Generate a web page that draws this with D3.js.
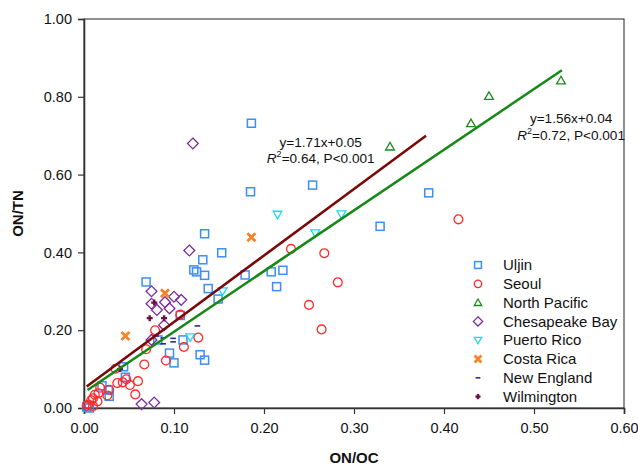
<!DOCTYPE html>
<html>
<head>
<meta charset="utf-8">
<script src="https://cdn.jsdelivr.net/npm/d3@7"></script>
<style>
  body { margin: 0; background: #fff; }
  text { font-family: "Liberation Sans", Arial, sans-serif; }
</style>
</head>
<body>
<div id="chart"></div>
<script>
// ON/OC vs ON/TN
const uljin = [[0.186, 0.732], [0.185, 0.556], [0.254, 0.573], [0.383, 0.553], [0.329, 0.467],
  [0.134, 0.448], [0.153, 0.399], [0.132, 0.381], [0.122, 0.355], [0.125, 0.350], [0.134, 0.341],
  [0.138, 0.307], [0.149, 0.280], [0.179, 0.342], [0.208, 0.350], [0.221, 0.354], [0.214, 0.312],
  [0.069, 0.324], [0.107, 0.238], [0.110, 0.175], [0.082, 0.175], [0.095, 0.141], [0.100, 0.116],
  [0.129, 0.137], [0.134, 0.123], [0.044, 0.106], [0.046, 0.079], [0.027, 0.046], [0.028, 0.030],
  [0.020, 0.057], [0.003, 0.003], [0.006, 0.000]];
const seoul = [[0.416, 0.485], [0.230, 0.409], [0.267, 0.398], [0.282, 0.323], [0.250, 0.265],
  [0.264, 0.202], [0.127, 0.181], [0.111, 0.157], [0.079, 0.200], [0.107, 0.240], [0.069, 0.151],
  [0.067, 0.112], [0.091, 0.122], [0.060, 0.069], [0.057, 0.035], [0.051, 0.059], [0.047, 0.074],
  [0.043, 0.066], [0.037, 0.064], [0.035, 0.101], [0.028, 0.047], [0.026, 0.032], [0.018, 0.052],
  [0.016, 0.038], [0.012, 0.034], [0.010, 0.025], [0.015, 0.017], [0.008, 0.020], [0.005, 0.009],
  [0.003, 0.006], [0.010, 0.005]];
const northPacific = [[0.340, 0.672], [0.430, 0.732], [0.450, 0.802], [0.530, 0.842]];
const chesapeake = [[0.121, 0.680], [0.117, 0.405], [0.075, 0.300], [0.100, 0.286], [0.108, 0.278],
  [0.075, 0.268], [0.081, 0.252], [0.090, 0.272], [0.095, 0.256], [0.089, 0.213], [0.075, 0.175],
  [0.064, 0.010], [0.078, 0.014]];
const puertoRico = [[0.215, 0.497], [0.286, 0.498], [0.257, 0.449], [0.154, 0.300], [0.118, 0.182]];
const costaRica = [[0.186, 0.439], [0.090, 0.295], [0.046, 0.185]];
const newEngland = [[0.126, 0.211], [0.099, 0.179], [0.099, 0.170], [0.088, 0.180], [0.088, 0.165], [0.080, 0.185]];
const wilmington = [[0.073, 0.231], [0.078, 0.271], [0.089, 0.231], [0.040, 0.100]];

const seriesNames = ["Uljin", "Seoul", "North Pacific", "Chesapeake Bay", "Puerto Rico", "Costa Rica", "New England", "Wilmington"];
const seriesData = [uljin, seoul, northPacific, chesapeake, puertoRico, costaRica, newEngland, wilmington];

// fitted lines as given on the chart
const fitSlopes = [1.71, 1.56];
const fitIntercepts = [0.05, 0.04];
const fitRanges = [[0.003, 0.38], [0.004, 0.531]];
const fitLabels = [["y=1.71x+0.05", "0.64, P<0.001"], ["y=1.56x+0.04", "0.72, P<0.001"]];

const xTicks = [0, 0.1, 0.2, 0.3, 0.4, 0.5, 0.6];
const yTicks = [0, 0.2, 0.4, 0.6, 0.8, 1.0];

const styles = [
  { shape: "square", color: "#3a8ef6" },
  { shape: "circle", color: "#ff2a2a" },
  { shape: "triangle", color: "#1f8a1f" },
  { shape: "diamond", color: "#7b2d9e" },
  { shape: "triangleDown", color: "#19dcef" },
  { shape: "times", color: "#f5832a" },
  { shape: "dash", color: "#2b2b8c" },
  { shape: "plus", color: "#6e1040" }
];
const lineColors = ["#7a0a0a", "#168816"];

const W = 638, H = 466;
const margin = { top: 19, right: 14, bottom: 58, left: 84 };
const width = W - margin.left - margin.right;
const height = H - margin.top - margin.bottom;

const svg = d3.select("#chart").append("svg").attr("width", W).attr("height", H);
const g = svg.append("g").attr("transform", `translate(${margin.left},${margin.top})`);

const x = d3.scaleLinear().domain([0, 0.6]).range([0, width]);
const y = d3.scaleLinear().domain([0, 1]).range([height, 0]);

// frame
g.append("rect").attr("x", 0).attr("y", 0).attr("width", width).attr("height", height)
  .attr("fill", "none").attr("stroke", "#222").attr("stroke-width", 1);

const xAxis = g.append("g").attr("transform", `translate(0,${height})`)
  .call(d3.axisBottom(x).tickValues(xTicks).tickFormat(d3.format(".2f")).tickSizeOuter(0).tickSize(6).tickPadding(9));
const yAxis = g.append("g")
  .call(d3.axisLeft(y).tickValues(yTicks).tickFormat(d3.format(".2f")).tickSizeOuter(0).tickSize(6).tickPadding(6));
[xAxis, yAxis].forEach(a => {
  a.select(".domain").attr("stroke", "#333").attr("stroke-width", 1.6);
  a.selectAll(".tick line").attr("stroke", "#333").attr("stroke-width", 1.2);
  a.selectAll(".tick text").attr("fill", "#111").style("font-size", "14.5px")
    .style("font-family", "'Liberation Sans', Arial, sans-serif");
});

svg.append("text").attr("x", margin.left + width / 2).attr("y", 463)
  .attr("text-anchor", "middle").style("font-size", "15px").style("font-weight", "bold").attr("fill", "#111")
  .text("ON/OC");
svg.append("text").attr("transform", `translate(23,${margin.top + height / 2}) rotate(-90)`)
  .attr("text-anchor", "middle").style("font-size", "15px").style("font-weight", "bold").attr("fill", "#111")
  .text("ON/TN");

const drawMarker = (sel, shape, color, s) => {
  if (shape === "square") {
    sel.append("rect").attr("x", -s).attr("y", -s).attr("width", 2 * s).attr("height", 2 * s)
      .attr("fill", "none").attr("stroke", color).attr("stroke-width", 1.5);
  } else if (shape === "circle") {
    sel.append("circle").attr("r", s * 1.1).attr("fill", "none").attr("stroke", color).attr("stroke-width", 1.3);
  } else if (shape === "triangle" || shape === "triangleDown") {
    const d = shape === "triangle"
      ? `M0,${-s * 1.05}L${s * 1.1},${s * 0.85}L${-s * 1.1},${s * 0.85}Z`
      : `M0,${s * 1.05}L${s * 1.1},${-s * 0.85}L${-s * 1.1},${-s * 0.85}Z`;
    sel.append("path").attr("d", d).attr("fill", "none").attr("stroke", color).attr("stroke-width", 1.3);
  } else if (shape === "diamond") {
    const r = s * 1.35;
    sel.append("path").attr("d", `M0,${-r}L${r},0L0,${r}L${-r},0Z`)
      .attr("fill", "none").attr("stroke", color).attr("stroke-width", 1.3);
  } else if (shape === "times") {
    sel.append("path").attr("d", `M${-s},${-s}L${s},${s}M${s},${-s}L${-s},${s}`)
      .attr("stroke", color).attr("stroke-width", 2.8);
  } else if (shape === "dash") {
    sel.append("path").attr("d", `M${-s * 0.7},0L${s * 0.7},0`).attr("stroke", color).attr("stroke-width", 1.6);
  } else if (shape === "plus") {
    const p = s * 0.75;
    sel.append("path").attr("d", `M${-p},0L${p},0M0,${-p}L0,${p}`).attr("stroke", color).attr("stroke-width", 2.4);
  }
};

// points
seriesData.forEach((data, i) => {
  const st = styles[i];
  g.append("g").selectAll("g").data(data).join("g")
    .attr("transform", d => `translate(${x(d[0])},${y(d[1])})`)
    .each(function () { drawMarker(d3.select(this), st.shape, st.color, 4); });
});

// regression lines
fitSlopes.forEach((m, i) => {
  const pts = fitRanges[i].map(v => [v, m * v + fitIntercepts[i]]);
  g.append("path").datum(pts)
    .attr("fill", "none").attr("stroke", lineColors[i]).attr("stroke-width", 2.6)
    .attr("d", d3.line().x(d => x(d[0])).y(d => y(d[1])));
});

// equation labels
const labelPos = [[0.263, 0.672], [0.5412, 0.733]];
fitLabels.forEach((lab, i) => {
  const cx = x(labelPos[i][0]), cy = y(labelPos[i][1]);
  g.append("text").attr("x", cx).attr("y", cy).attr("text-anchor", "middle")
    .style("font-size", "13.6px").attr("fill", "#111").text(lab[0]);
  const t = g.append("text").attr("x", cx).attr("y", cy + 16.7).attr("text-anchor", "middle")
    .style("font-size", "13.6px").attr("fill", "#111");
  t.append("tspan").style("font-style", "italic").text("R");
  t.append("tspan").attr("dy", -6).style("font-size", "9px").text("2");
  t.append("tspan").attr("dy", 6).text("=" + lab[1]);
});

// legend
const legend = g.append("g").attr("transform", `translate(${478 - margin.left},${265 - margin.top})`);
seriesNames.forEach((name, i) => {
  const row = legend.append("g").attr("transform", `translate(0,${i * 18.8})`);
  drawMarker(row, styles[i].shape, styles[i].color, 3.4);
  row.append("text").attr("x", 25).attr("y", 0).attr("dy", "0.35em")
    .style("font-size", "15px").attr("fill", "#111").text(name);
});
</script>
</body>
</html>
